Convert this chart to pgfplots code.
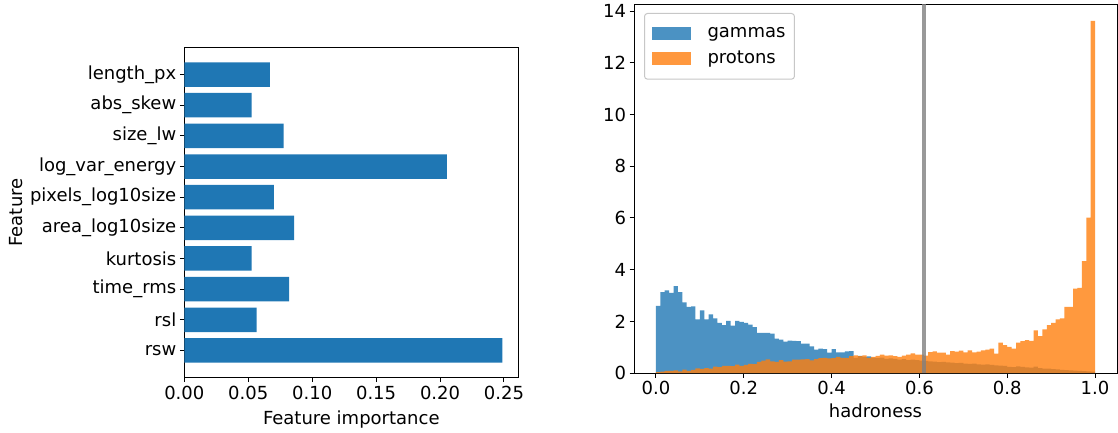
\documentclass[border=0pt]{standalone}
\usepackage{pgfplots}
\pgfplotsset{compat=1.18}
\usepackage{pgfplotstable}
\usepackage{fontspec}
\setmainfont{DejaVu Sans}
\definecolor{tabblue}{HTML}{1F77B4}
\definecolor{taborange}{HTML}{FF7F0E}
\newcommand\fs{\fontsize{18}{21.6}\selectfont}

\pgfplotstableread{
x g p
0.00 2.60 0.03
0.01 3.13 0.05
0.02 3.20 0.08
0.03 3.10 0.08
0.04 3.36 0.10
0.05 3.13 0.06
0.06 2.73 0.13
0.07 2.56 0.08
0.08 2.58 0.12
0.09 2.08 0.18
0.10 2.42 0.16
0.11 2.08 0.19
0.12 2.27 0.17
0.13 2.11 0.25
0.14 1.94 0.23
0.15 1.85 0.28
0.16 2.02 0.28
0.17 1.83 0.27
0.18 2.02 0.32
0.19 1.98 0.28
0.20 1.94 0.31
0.21 1.87 0.35
0.22 1.78 0.34
0.23 1.55 0.43
0.24 1.55 0.48
0.25 1.55 0.53
0.26 1.52 0.45
0.27 1.33 0.43
0.28 1.29 0.50
0.29 1.21 0.44
0.30 1.25 0.45
0.31 1.24 0.52
0.32 1.23 0.52
0.33 1.14 0.53
0.34 1.14 0.54
0.35 1.03 0.49
0.36 0.90 0.54
0.37 0.94 0.58
0.38 0.92 0.59
0.39 0.79 0.57
0.40 0.92 0.58
0.41 0.80 0.62
0.42 0.80 0.59
0.43 0.84 0.59
0.44 0.85 0.65
0.45 0.59 0.68
0.46 0.66 0.65
0.47 0.62 0.68
0.48 0.64 0.59
0.49 0.60 0.62
0.50 0.58 0.66
0.51 0.60 0.71
0.52 0.55 0.67
0.53 0.57 0.68
0.54 0.55 0.65
0.55 0.52 0.62
0.56 0.54 0.67
0.57 0.50 0.71
0.58 0.52 0.76
0.59 0.50 0.71
0.60 0.48 0.71
0.61 0.47 0.67
0.62 0.45 0.81
0.63 0.44 0.84
0.64 0.42 0.79
0.65 0.43 0.79
0.66 0.41 0.71
0.67 0.40 0.85
0.68 0.38 0.83
0.69 0.39 0.87
0.70 0.36 0.80
0.71 0.35 0.88
0.72 0.36 0.80
0.73 0.33 0.83
0.74 0.32 0.88
0.75 0.33 0.90
0.76 0.31 0.94
0.77 0.30 0.75
0.78 0.29 1.18
0.79 0.28 1.08
0.80 0.24 1.01
0.81 0.23 0.94
0.82 0.26 1.18
0.83 0.24 1.23
0.84 0.22 1.27
0.85 0.21 1.24
0.86 0.25 1.65
0.87 0.19 1.43
0.88 0.17 1.69
0.89 0.17 1.85
0.90 0.15 1.94
0.91 0.14 2.08
0.92 0.12 2.11
0.93 0.11 2.56
0.94 0.10 2.56
0.95 0.09 3.27
0.96 0.08 3.29
0.97 0.07 4.33
0.98 0.06 6.01
0.99 0.05 13.63
1.00 0.05 13.63
}\histdata

\pgfplotsset{
  every axis/.append style={
    scale only axis,
    axis line style={line width=1pt},
    tick style={black, line width=1pt},
    major tick length=4.5pt,
    tick align=outside,
    xtick pos=left, ytick pos=left,
    tick label style={font=\fs},
    label style={font=\fs},
    /pgf/number format/assume math mode=true,
  },
}

\begin{document}
\begin{tikzpicture}[x=1pt,y=1pt]
\useasboundingbox (0,0) rectangle (1118,432);
% left: feature importance
\begin{axis}[
  at={(184.3pt,54.3pt)}, anchor=south west,
  width=334pt, height=330.4pt,
  xbar, bar width=0.8,
  xmin=0, xmax=0.2612, ymin=-0.89, ymax=9.89,
  xtick={0,0.05,0.10,0.15,0.20,0.25},
  xticklabel style={/pgf/number format/.cd, fixed, fixed zerofill, precision=2},
  ytick={0,...,9},
  yticklabels={rsw,rsl,time\_rms,kurtosis,area\_log10size,pixels\_log10size,log\_var\_energy,size\_lw,abs\_skew,length\_px},
  xlabel={Feature importance},
  ylabel={Feature},
  xlabel style={yshift=-4.5pt},
]
\addplot[fill=tabblue, draw=none] coordinates {
  (0.2487,0) (0.0566,1) (0.0819,2) (0.0527,3) (0.0858,4)
  (0.0701,5) (0.2054,6) (0.0777,7) (0.0527,8) (0.0670,9)};
\end{axis}
% right: hadroness histogram
\begin{axis}[
  at={(634pt,59pt)}, anchor=south west,
  width=483pt, height=369pt,
  xmin=-0.05, xmax=1.05, ymin=0, ymax=14.28,
  xtick={0,0.2,0.4,0.6,0.8,1.0},
  xticklabel style={/pgf/number format/.cd, fixed, fixed zerofill, precision=1},
  ytick={0,2,...,14},
  xlabel={hadroness},
  xlabel style={yshift=-2pt},
  legend style={at={(0.0207,0.9757)}, anchor=north west, draw=black!22,
    line width=1pt, rounded corners=3pt, font=\fs,
    inner xsep=7pt, inner ysep=12pt, row sep=8pt,
    /tikz/every odd column/.append style={column sep=15pt}},
  legend cell align=left,
  legend image code/.code={\fill[#1, sharp corners] (0pt,-6.5pt) rectangle (39pt,6.5pt);},
]
\addplot[fill=tabblue, fill opacity=0.8, draw=none, const plot mark left]
  table[x=x, y=g] {\histdata} \closedcycle;
\addlegendentry{gammas\hspace{4pt}}
\addplot[fill=taborange, fill opacity=0.8, draw=none, const plot mark left]
  table[x=x, y=p] {\histdata} \closedcycle;
\addlegendentry{protons\hspace{4pt}}
\addplot[gray, opacity=0.8, line width=4pt, forget plot] coordinates {(0.61,0) (0.61,14.28)};
\end{axis}
\end{tikzpicture}
\end{document}
